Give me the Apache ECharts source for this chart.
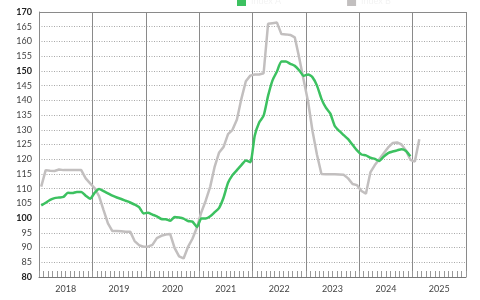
<!DOCTYPE html>
<html><head><meta charset="utf-8">
<script src="https://cdn.jsdelivr.net/npm/echarts@6/dist/echarts.min.js"></script>
<style>html,body{margin:0;padding:0;background:#fff}#c{width:480px;height:300px}</style>
</head><body><div id="c"></div>
<script>
var years = ['2018','2019','2020','2021','2022','2023','2024','2025'];
var seriesNames = ['Index A', 'Index B'];
var greenValues = [
104.3,105.2,106.2,106.8,107.0,107.2,108.6,108.5,108.9,108.9,107.6,106.6,
108.6,109.9,109.2,108.4,107.6,107.0,106.5,105.9,105.3,104.6,103.7,101.6,
101.8,101.2,100.6,99.7,99.6,99.1,100.4,100.2,99.8,99.0,98.8,97.0,
99.9,99.9,100.6,102.0,103.5,107.0,112.0,114.6,116.3,118.0,119.6,119.0,
128.0,132.5,134.8,141.5,146.8,149.8,153.2,153.2,152.4,151.7,150.2,148.3,
148.8,147.8,145.0,140.5,137.5,135.5,131.3,129.6,128.2,126.8,124.9,123.0,
121.6,121.3,120.5,120.1,119.4,120.9,122.1,122.6,123.0,123.4,122.8,121.0
];
var grayValues = [
110.7,116.3,116.1,116.0,116.5,116.3,116.3,116.3,116.3,116.3,113.5,111.8,
110.2,107.5,102.8,98.2,95.6,95.6,95.5,95.4,95.4,92.2,90.8,90.3,
90.3,90.9,93.2,94.0,94.4,94.6,89.8,87.0,86.3,90.2,93.0,96.8,
102.0,106.0,110.7,117.5,122.3,124.2,128.5,130.0,133.5,140.5,146.5,148.4,
148.8,148.8,149.2,166.0,166.2,166.4,162.5,162.4,162.2,161.4,154.5,146.9,
139.5,129.5,121.5,115.0,114.9,114.9,114.9,114.8,114.7,113.5,111.6,111.2,
109.2,108.3,115.5,118.0,120.0,122.0,124.0,125.5,125.7,125.0,123.0,119.8,
119.2,126.8
];
var months = [];
years.forEach(function(y){ for (var m=1;m<=12;m++) months.push(y+'-'+(m<10?'0':'')+m); });
var boldTicks = [80,100,150,170];

var chart = echarts.init(document.getElementById('c'), null, {renderer:'canvas'});
chart.setOption({
  animation:false,
  backgroundColor:'#fff',
  legend:{
    top:-8, left:232, itemGap:66, itemWidth:9, itemHeight:9, icon:'rect',
    textStyle:{color:'#f3f3f3', fontSize:9, fontFamily:'Lato'},
    data:seriesNames
  },
  grid:{left:39, right:14, top:12, bottom:23},
  xAxis:[{
    type:'category', data:months, boundaryGap:true,
    axisLine:{show:true, lineStyle:{color:'#777', width:1}},
    axisTick:{show:true, inside:true, length:6, interval:0, lineStyle:{color:'#999'}},
    axisLabel:{show:false}, splitLine:{show:false}
  },{
    type:'category', data:years, boundaryGap:true, position:'bottom',
    axisLine:{show:false}, axisTick:{show:false},
    axisLabel:{show:true, margin:8, fontSize:9, color:'#444', fontFamily:'Lato'},
    splitLine:{show:true, lineStyle:{color:'#8a8a8a', width:1}}
  }],
  yAxis:[{
    type:'value', min:80, max:170, interval:5,
    axisLine:{show:true, lineStyle:{color:'#8a8a8a'}},
    axisTick:{show:false},
    axisLabel:{margin:7, fontSize:9, color:'#444', fontFamily:'Lato',
      formatter:function(v){ return boldTicks.indexOf(v)>=0 ? '{b|'+v+'}' : '{n|'+v+'}'; },
      rich:{b:{fontWeight:'bold', fontSize:9, color:'#222', fontFamily:'Lato'}, n:{fontSize:9, color:'#444', fontFamily:'Lato'}}},
    splitLine:{show:true, lineStyle:{color:'#a8a8a8', type:[1,1.5], width:1}}
  },{
    type:'value', min:80, max:170, interval:90, position:'right',
    axisLine:{show:false}, axisTick:{show:false}, axisLabel:{show:false},
    splitLine:{show:true, lineStyle:{color:'#8a8a8a', width:1}}
  }],
  series:[{
    name:seriesNames[0], type:'line', data:greenValues, xAxisIndex:0, yAxisIndex:0,
    showSymbol:false, smooth:0.2, lineStyle:{color:'#3cc160', width:2.5}, itemStyle:{color:'#3cc160'}, z:3
  },{
    name:seriesNames[1], type:'line', data:grayValues, xAxisIndex:0, yAxisIndex:0,
    showSymbol:false, smooth:false, lineStyle:{color:'#c2bfbf', width:2.5}, itemStyle:{color:'#c2bfbf'}, z:2
  }]
});
</script></body></html>
